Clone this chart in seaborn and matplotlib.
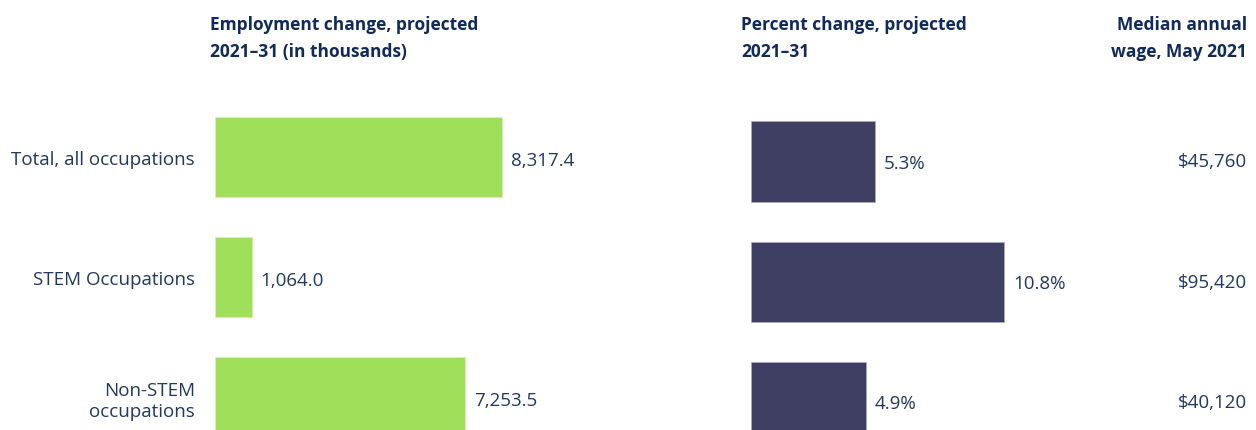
import matplotlib
matplotlib.use("Agg")
import matplotlib.pyplot as plt
import seaborn as sns
import pandas as pd

# data
categories = ["Total, all occupations", "STEM Occupations", "Non-STEM\noccupations"]
emp_change = [8317.4, 1064.0, 7253.5]      # thousands, 2021-31
pct_change = [5.3, 10.8, 4.9]              # percent, 2021-31
wages = ["$45,760", "$95,420", "$40,120"]  # median annual wage, May 2021

headers = [
    (["Employment change, projected", "2021\u201331 (in thousands)"], 210, "left"),
    (["Percent change, projected", "2021\u201331"], 741, "left"),
    (["Median annual", "wage, May 2021"], 1247, "right"),
]

green = "#a0df5a"
navy = "#3e3f63"
txt = "#1f3864"
head = "#112a5c"

sns.set_style("white")
plt.rcParams["font.family"] = ["Open Sans", "DejaVu Sans"]

df = pd.DataFrame({"cat": categories, "emp": emp_change, "pct": pct_change})

W, H = 1256, 431
fig = plt.figure(figsize=(W / 100, H / 100), dpi=100)
span = 331 / 120.3

# left panel: employment change
ax1 = fig.add_axes([215 / W, 0, (720 - 215) / W, (431 - 100) / H])
sns.barplot(data=df, y="cat", x="emp", orient="h", color=green, width=0.667,
            saturation=1, edgecolor="#d8efc0", linewidth=0.6, ax=ax1)
ax1.set_xlim(0, (720 - 215) * 8317.4 / 287)
ax1.set_ylim(2.271, 2.271 - span)
labs = ax1.bar_label(ax1.containers[0], fmt="{:,.1f}", padding=6.5, fontsize=13.5, color=txt)
for a in labs:
    a.xyann = (a.xyann[0], a.xyann[1] - 2)
ax1.tick_params(axis="y", length=0, pad=14.5, labelsize=13.5, labelcolor=txt)
ax1.set_xticks([])
ax1.set_xlabel("")
ax1.set_ylabel("")

# right panel: percent change
ax2 = fig.add_axes([751 / W, 0, (1247 - 751) / W, (431 - 100) / H])
sns.barplot(data=df, y="cat", x="pct", orient="h", color=navy, width=0.667,
            saturation=1, edgecolor="#a9aac4", linewidth=0.6, ax=ax2)
ax2.set_xlim(0, (1247 - 751) / (253 / 10.8))
ax2.set_ylim(2.232, 2.232 - span)
labs = ax2.bar_label(ax2.containers[0], fmt="{:.1f}%", padding=6.5, fontsize=13.5, color=txt)
for a in labs:
    a.xyann = (a.xyann[0], a.xyann[1] - 1)
ax2.set_xticks([])
ax2.set_yticks([])
ax2.set_xlabel("")
ax2.set_ylabel("")

# wage column
for i, w in enumerate(wages):
    ax2.text(1.0, i, w, transform=ax2.get_yaxis_transform(), ha="right",
             va="center", fontsize=13.5, color=txt)

for ax in (ax1, ax2):
    sns.despine(ax=ax, left=True, bottom=True)

# column headers
for lines, x, ha in headers:
    for j, line in enumerate(lines):
        fig.text(x / W, 1 - (29.5 + 28 * j) / H, line, ha=ha, va="baseline",
                 fontsize=12.5, fontweight="bold", color=head)

fig.savefig("out.png", dpi=100)
